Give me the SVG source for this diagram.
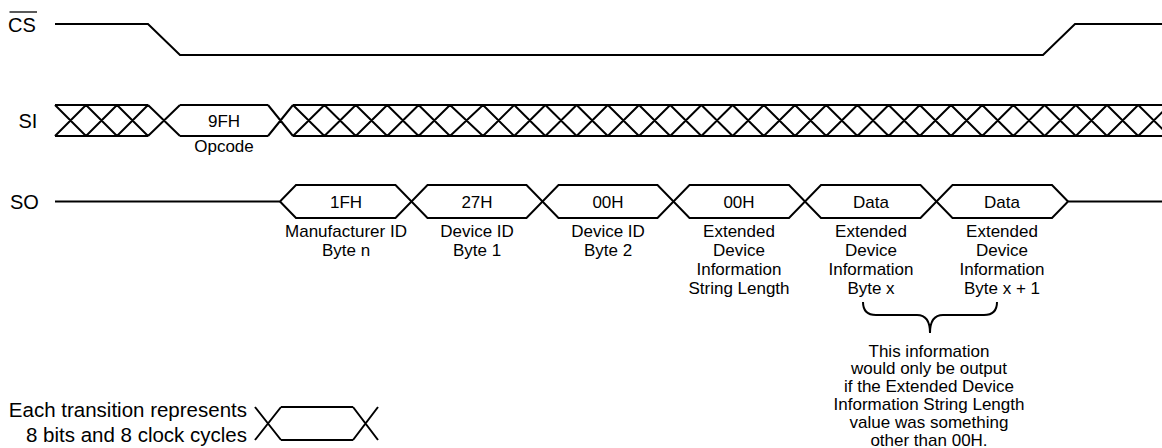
<svg xmlns="http://www.w3.org/2000/svg" width="1162" height="448" viewBox="0 0 1162 448">
<style>
.w{fill:none;stroke:#000;stroke-width:2;stroke-linejoin:miter}
.t{font-family:"Liberation Sans",Arial,sans-serif;fill:#000}
.sig{font-size:20px}
.lb{font-size:17px;text-anchor:middle}
.lg{font-size:20.5px;text-anchor:end}
</style>
<rect width="1162" height="448" fill="#fff"/>
<g id="cs">
<text class="t sig" x="8" y="32">CS</text>
<path d="M9.5 12H37" stroke="#000" stroke-width="1.3"/>
<path class="w" d="M55 24H148L180 55H1043L1075 24H1162"/>
</g>
<g id="si">
<text class="t sig" x="18.5" y="128">SI</text>
<path class="w" d="M55 105H148M55 136H148M55 105L86 136M55 136L86 105M86 105L117 136M86 136L117 105M117 105L148 136M117 136L148 105M148 105L180 136M148 136L180 105M180 105H268M180 136H268M268 105L293 136M268 136L293 105"/>
<path class="w" d="M293 105H1162M293 136H1162M293 105L324.4 136M293 136L324.4 105M324.4 105L355.8 136M324.4 136L355.8 105M355.8 105L387.2 136M355.8 136L387.2 105M387.2 105L418.6 136M387.2 136L418.6 105M418.6 105L450 136M418.6 136L450 105M450 105L483 136M450 136L483 105M483 105L514.2 136M483 136L514.2 105M514.2 105L545.4 136M514.2 136L545.4 105M545.4 105L576.6 136M545.4 136L576.6 105M576.6 105L607.8 136M576.6 136L607.8 105M607.8 105L639 136M607.8 136L639 105M639 105L670.2 136M639 136L670.2 105M670.2 105L701.4 136M670.2 136L701.4 105M701.4 105L732.6 136M701.4 136L732.6 105M732.6 105L763.8 136M732.6 136L763.8 105M763.8 105L795 136M763.8 136L795 105M795 105L826.2 136M795 136L826.2 105M826.2 105L857.4 136M826.2 136L857.4 105M857.4 105L888.6 136M857.4 136L888.6 105M888.6 105L919.8 136M888.6 136L919.8 105M919.8 105L951 136M919.8 136L951 105M951 105L982.2 136M951 136L982.2 105M982.2 105L1013.4 136M982.2 136L1013.4 105M1013.4 105L1044.6 136M1013.4 136L1044.6 105M1044.6 105L1075.8 136M1044.6 136L1075.8 105M1075.8 105L1107 136M1075.8 136L1107 105M1107 105L1138.2 136M1107 136L1138.2 105M1138.2 105L1169.4 136M1138.2 136L1169.4 105"/>
<text class="t lb" x="224" y="127">9FH</text>
<text class="t lb" x="224" y="152">Opcode</text>
</g>
<g id="so">
<text class="t sig" x="10" y="208.5">SO</text>
<path class="w" d="M55 201.5H280L296 185H395.5L427.5 218H526.5L558.5 185H657.5L689.5 218H789L821 185H920.5L952.5 218H1052L1068 201.5H1162"/>
<path class="w" d="M280 201.5L296 218H395.5L427.5 185H526.5L558.5 218H657.5L689.5 185H789L821 218H920.5L952.5 185H1052L1068 201.5"/>
</g>
<g id="so-byte1">
<text class="t lb" x="346" y="207.5">1FH</text>
<text class="t lb" x="346" y="237">Manufacturer ID</text>
<text class="t lb" x="346" y="256">Byte n</text>
</g>
<g id="so-byte2">
<text class="t lb" x="477" y="207.5">27H</text>
<text class="t lb" x="477" y="237">Device ID</text>
<text class="t lb" x="477" y="256">Byte 1</text>
</g>
<g id="so-byte3">
<text class="t lb" x="608" y="207.5">00H</text>
<text class="t lb" x="608" y="237">Device ID</text>
<text class="t lb" x="608" y="256">Byte 2</text>
</g>
<g id="so-byte4">
<text class="t lb" x="739" y="207.5">00H</text>
<text class="t lb" x="739" y="237">Extended</text>
<text class="t lb" x="739" y="256">Device</text>
<text class="t lb" x="739" y="275">Information</text>
<text class="t lb" x="739" y="294">String Length</text>
</g>
<g id="so-byte5">
<text class="t lb" x="871" y="207.5">Data</text>
<text class="t lb" x="871" y="237">Extended</text>
<text class="t lb" x="871" y="256">Device</text>
<text class="t lb" x="871" y="275">Information</text>
<text class="t lb" x="871" y="294">Byte x</text>
</g>
<g id="so-byte6">
<text class="t lb" x="1002" y="207.5">Data</text>
<text class="t lb" x="1002" y="237">Extended</text>
<text class="t lb" x="1002" y="256">Device</text>
<text class="t lb" x="1002" y="275">Information</text>
<text class="t lb" x="1002" y="294">Byte x + 1</text>
</g>
<g id="note">
<path d="M863 302Q863 315 876 315H917Q930 315 930 333Q930 315 943 315H984Q997 315 997 302" fill="none" stroke="#000" stroke-width="2"/>
<text class="t lb" x="929" y="356.5">This information</text>
<text class="t lb" x="929" y="374.4">would only be output</text>
<text class="t lb" x="929" y="392.3">if the Extended Device</text>
<text class="t lb" x="929" y="410.2">Information String Length</text>
<text class="t lb" x="929" y="428.1">value was something</text>
<text class="t lb" x="929" y="446">other than 00H.</text>
</g>
<g id="legend">
<text class="t lg" x="247" y="416.5">Each transition represents</text>
<text class="t lg" x="247" y="441.5">8 bits and 8 clock cycles</text>
<path class="w" d="M255 407L281 440M255 440L281 407M281 407H353M281 440H353M353 407L378 440M353 440L378 407"/>
</g>
</svg>
